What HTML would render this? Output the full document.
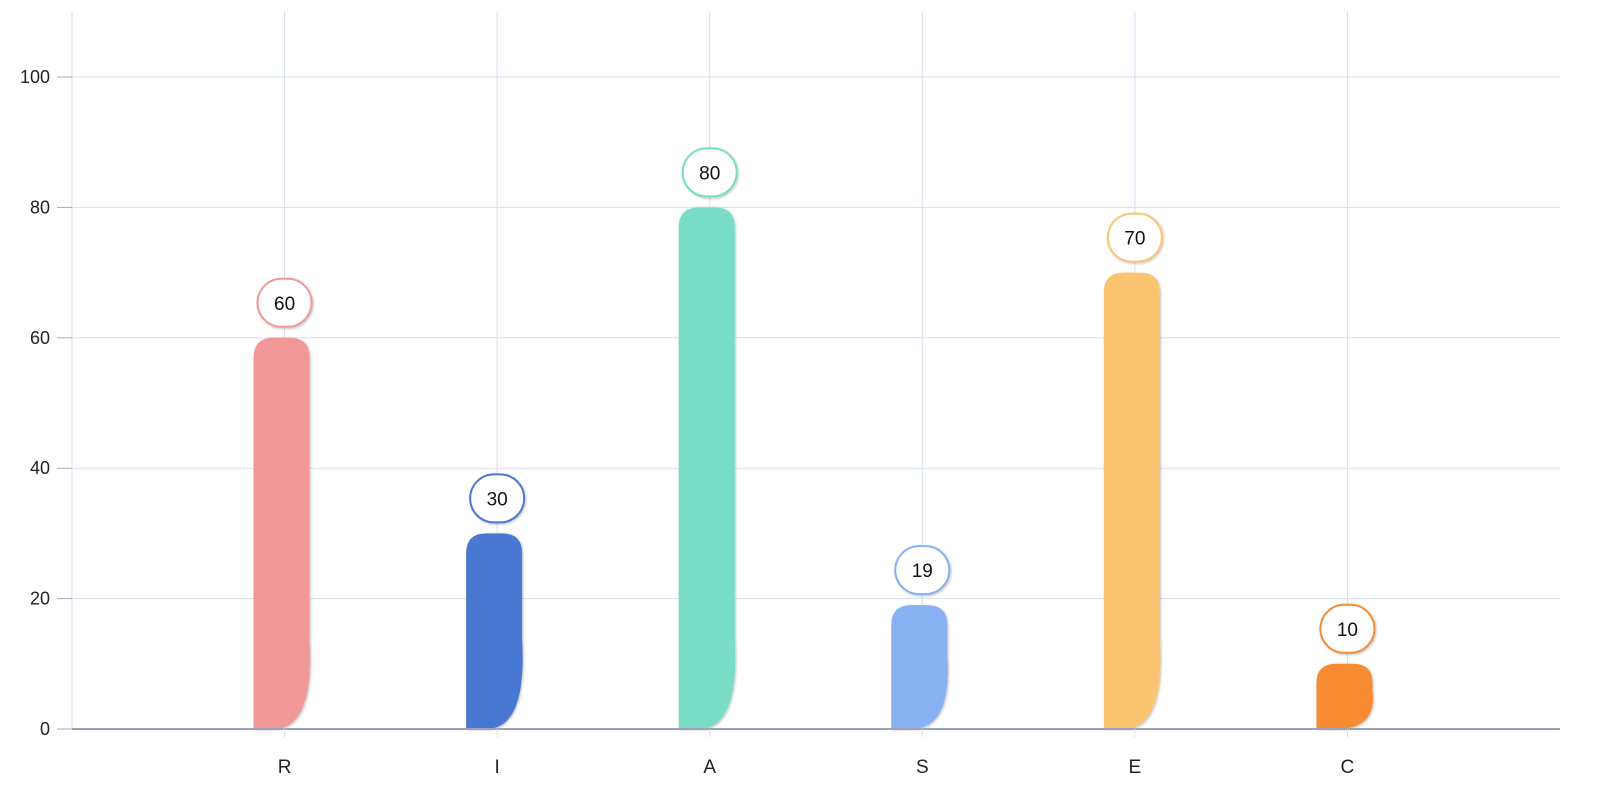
<!DOCTYPE html>
<html><head><meta charset="utf-8"><style>
body{margin:0;background:#fff;}
svg{display:block;font-family:"Liberation Sans",sans-serif;}
</style></head><body>
<svg id="chart" width="1600" height="800" viewBox="0 0 1600 800">
<defs><filter id="sh" x="-20%" y="-20%" width="140%" height="140%"><feDropShadow dx="1" dy="1" stdDeviation="1.2" flood-color="#000" flood-opacity="0.25"/></filter></defs>
<g id="grid"></g>
<g id="bars"></g>
<g id="axes"></g>
</svg>
<script>
const categories=["R","I","A","S","E","C"];
const values=[60,30,80,19,70,10];
const colors=["#f29797","#4a78d2","#79dcc4","#87b1f3","#fbc471","#f68b30"];
const yTicks=[0,20,40,60,80,100];
const NS="http://www.w3.org/2000/svg";
const L=72,R=1560,T=12,B=729,yMax=100,y100=77;
const band=(R-L)/(categories.length+1);
const x=i=>L+band*(i+1);
const y=v=>B-(B-y100)*v/yMax;
function mk(t,a,p){const e=document.createElementNS(NS,t);for(const k in a)e.setAttribute(k,a[k]);p.appendChild(e);return e;}
const grid=document.getElementById('grid'),bars=document.getElementById('bars'),axes=document.getElementById('axes');
yTicks.forEach(v=>{
  const l=mk('line',{x1:L,x2:R,y1:y(v),y2:y(v),stroke:'#d5deec','stroke-width':1},grid);
  
  
  const tk=mk('line',{x1:57,x2:L,y1:y(v),y2:y(v),stroke:'#aaa'},axes);
  
  
  const t=mk('text',{x:50,y:y(v)+6,'text-anchor':'end','font-size':18,fill:'#222'},axes);
  t.textContent=v;
  
  
});
for(let k=0;k<=categories.length;k++){
  const l=mk('line',{x1:L+band*k,x2:L+band*k,y1:T,y2:B,stroke:'#d5deec'},grid);
  
  
}
const ax=mk('line',{x1:L,x2:R,y1:B,y2:B,stroke:'#9aa3b5','stroke-width':2},axes);


categories.forEach((c,i)=>{
  const cx=x(i),top=y(values[i]),h=B-top,x0=cx-31,x1=cx+25,r=Math.min(20,h*0.3);
  const ch=Math.min(90,h*0.6);
  const d=`M${x0},${B} L${x0},${top+r} Q${x0},${top} ${x0+r},${top} L${x1-r},${top} Q${x1},${top} ${x1},${top+r} L${x1},${B-ch} C${x1+3},${B-ch*0.4} ${x1-6},${B} ${x0+20},${B} Z`;
  const p=mk('path',{d:d,fill:colors[i],filter:'url(#sh)'},bars);
  
  
  const tk=mk('line',{x1:cx,x2:cx,y1:B,y2:B+8,stroke:'#d5deec'},axes);
  
  
  const t=mk('text',{x:cx,y:B+44,'text-anchor':'middle','font-size':19,fill:'#222'},axes);
  t.textContent=c;
  
  
  const by=top-35;
  const bb=mk('rect',{x:cx-27,y:by-24,width:54,height:48,rx:24,ry:24,fill:'#fff',stroke:colors[i],'stroke-width':2,filter:'url(#sh)'},bars);
  
  
  const vt=mk('text',{x:cx,y:by+7,'text-anchor':'middle','font-size':19,fill:'#111'},bars);
  vt.textContent=values[i];
  
  
});
</script>
</body></html>
